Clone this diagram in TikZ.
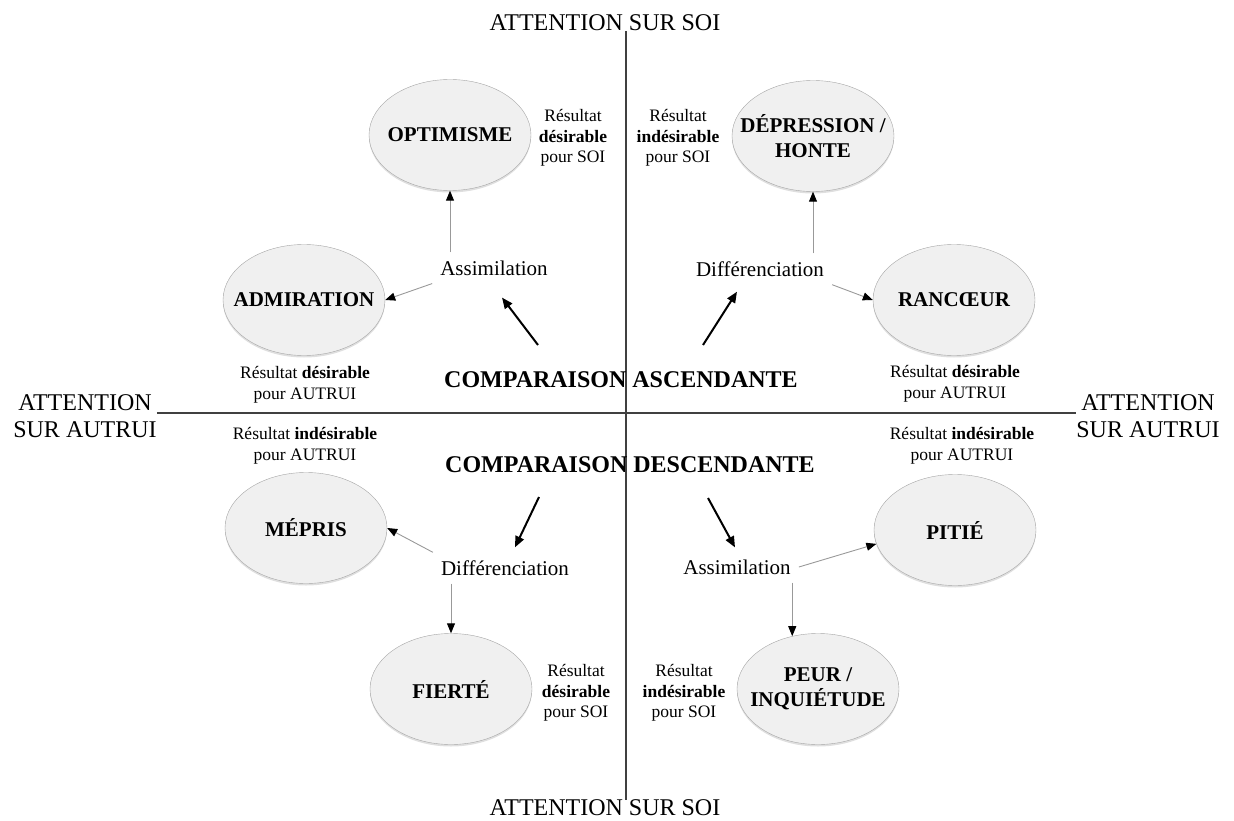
\documentclass[tikz,border=0pt]{standalone}
\usepackage{fontspec}
\setmainfont{Liberation Serif}
\usetikzlibrary{arrows.meta,shapes.geometric,shadows}
\begin{document}
\begin{tikzpicture}[x=1pt,y=-1pt,
	emo/.style={draw=black!35,fill=black!6,shape=ellipse,minimum width=162pt,minimum height=111pt,inner xsep=-20pt,inner ysep=0pt,align=center,font=\fontsize{21}{24.5}\selectfont\bfseries,drop shadow={shadow xshift=0pt,shadow yshift=-2pt,opacity=.25}},
	proc/.style={inner sep=8pt,font=\fontsize{21}{24}\selectfont},
	res/.style={inner sep=0pt,align=center,font=\fontsize{17.5}{20.5}\selectfont},
	axlab/.style={inner sep=0pt,align=center,font=\fontsize{24}{27}\selectfont},
	comp/.style={inner sep=0pt,font=\fontsize{24}{27}\selectfont\bfseries},
	axe/.style={line width=2.5pt,black!75},
	fleche/.style={draw=black!40,line width=.9pt,-{Triangle[length=10pt,width=8pt,color=black]}},
	grosse/.style={draw=black,line width=2pt,-{Triangle[length=11pt,width=9pt]}}]
			\useasboundingbox (0,0) rectangle (1234,821);
			
			\node[axlab] (ST) at (605,23) {ATTENTION SUR SOI};
			\node[axlab] (SB) at (605,808) {ATTENTION SUR SOI};
			\node[axlab] (AL) at (85,416) {ATTENTION\\SUR AUTRUI};
			\node[axlab] (AR) at (1148,416) {ATTENTION\\SUR AUTRUI};
			
			\draw[axe] ([xshift=21pt]ST.south) -- ([xshift=21pt]SB.north);
			\draw[axe] ([yshift=3pt]AL.east) -- ([yshift=3pt]AR.west);
			
			\node[emo] (OP) at (450,135) {OPTIMISME};
			\node[emo] (DH) at (813,136) {DÉPRESSION /\\HONTE};
			\node[emo] (AD) at (304,300) {ADMIRATION};
			\node[emo] (RC) at (954,300) {RANCŒUR};
			\node[emo] (MP) at (306,528) {MÉPRIS};
			\node[emo] (PT) at (955,530) {PITIÉ};
			\node[emo] (FT) at (451,689) {FIERTÉ};
			\node[emo] (PQ) at (818,689) {PEUR /\\INQUIÉTUDE};
			
			\node[proc] (SA) at (494,268) {Assimilation};
			\node[proc] (SD) at (760,269) {Différenciation};
			\node[proc] (DD) at (505,568) {Différenciation};
			\node[proc] (DA) at (737,567) {Assimilation};
			
			\node[comp] (CA) at (621,380) {COMPARAISON ASCENDANTE};
			\node[comp] (CD) at (630,465) {COMPARAISON DESCENDANTE};
			
			\node[res] (R1) at (573,138) {Résultat\\\textbf{désirable}\\pour SOI};
			\node[res] (R2) at (678,138) {Résultat\\\textbf{indésirable}\\pour SOI};
			\node[res] (R3) at (305,385) {Résultat \textbf{désirable}\\pour AUTRUI};
			\node[res] (R4) at (955,384) {Résultat \textbf{désirable}\\pour AUTRUI};
			\node[res] (R5) at (305,446) {Résultat \textbf{indésirable}\\pour AUTRUI};
			\node[res] (R6) at (962,446) {Résultat \textbf{indésirable}\\pour AUTRUI};
			\node[res] (R7) at (576,693) {Résultat\\\textbf{désirable}\\pour SOI};
			\node[res] (R8) at (684,693) {Résultat\\\textbf{indésirable}\\pour SOI};
			
			\coordinate (tAL) at (538,345);
			\coordinate (tAR) at (703,345);
			\coordinate (tDL) at (539,497);
			\coordinate (tDR) at (708,498);
			
			\draw[fleche] (SA.north -| OP.south) -- (OP.south);
			\draw[fleche] (SA.south west) -- (AD.east);
			\draw[fleche] (SD.north -| DH.south) -- (DH.south);
			\draw[fleche] (SD.south east) -- (RC.west);
			\draw[fleche] (DD.north west) -- (MP.east);
			\draw[fleche] (DD.south -| FT.north) -- (FT.north);
			\draw[fleche] (DA.east) -- (PT.190);
			\draw[fleche] (DA.south -| PQ.116) -- (PQ.116);
			
			\draw[grosse] (tAL) -- ([xshift=8pt,yshift=-14pt]SA.south);
			\draw[grosse] (tAR) -- ([xshift=-23pt,yshift=-7pt]SD.south);
			\draw[grosse] (tDL) -- ([xshift=10pt,yshift=5pt]DD.north);
			\draw[grosse] (tDR) -- ([xshift=-2pt,yshift=4pt]DA.north);
\end{tikzpicture}
\end{document}
